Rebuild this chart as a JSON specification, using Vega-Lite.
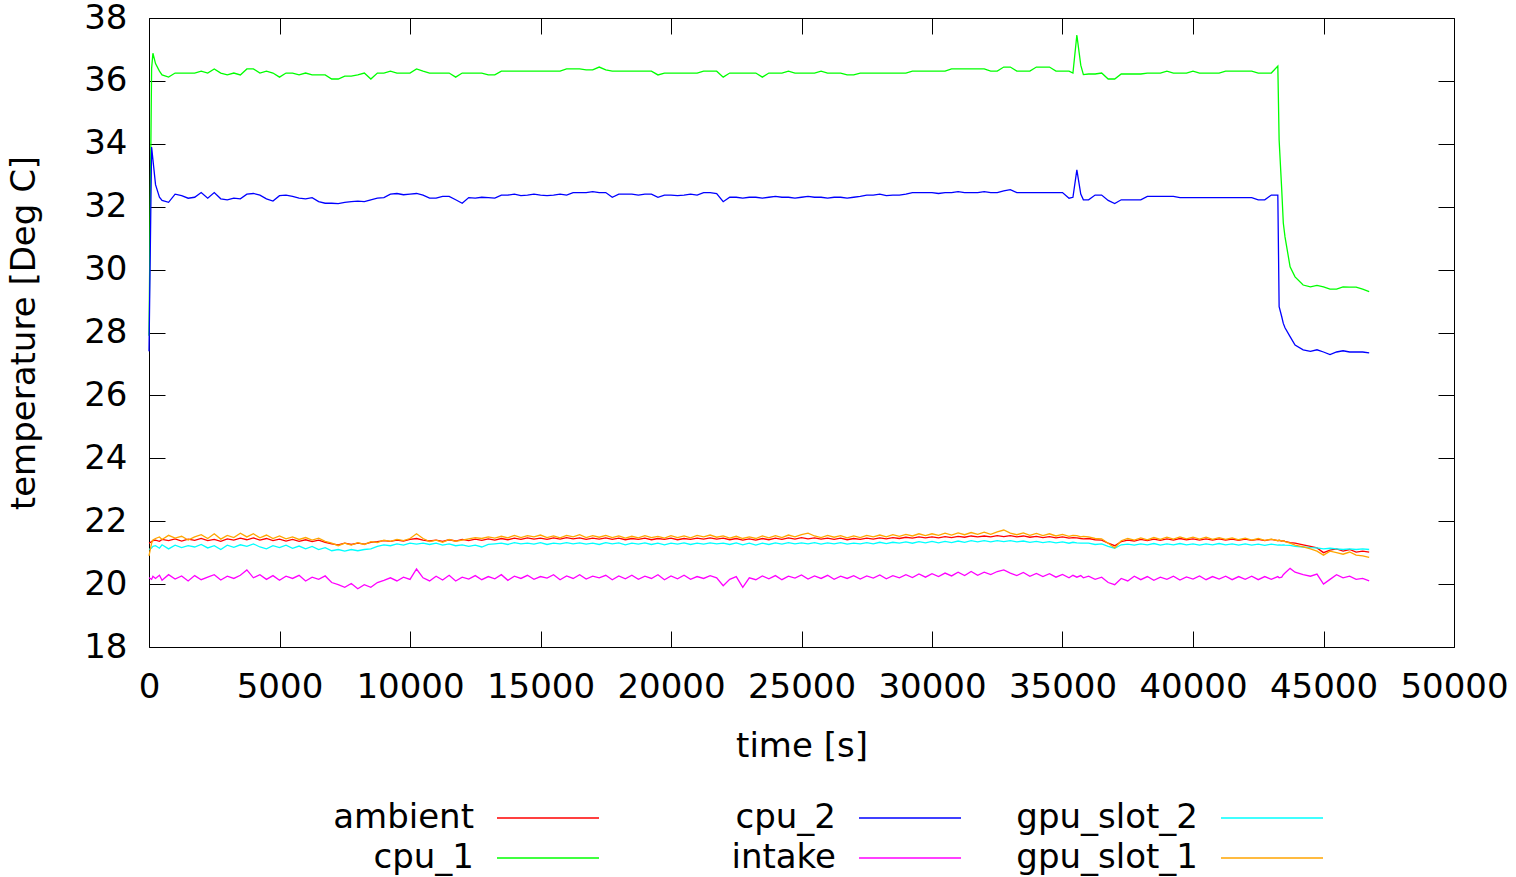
{
  "$schema": "https://vega.github.io/schema/vega-lite/v6.json",
  "width": 1305,
  "height": 629,
  "autosize": {"type": "none"},
  "padding": {"left": 149, "top": 18, "right": 62, "bottom": 230},
  "background": "white",
  "config": {
    "font": "DejaVu Sans",
    "view": {"stroke": "black", "strokeWidth": 1},
    "axis": {"domain": false, "grid": false, "tickColor": "black", "tickWidth": 1, "tickSize": -16, "labelColor": "black", "titleColor": "black", "labelFont": "DejaVu Sans", "titleFont": "DejaVu Sans", "labelFontSize": 34, "titleFontSize": 34, "titleFontWeight": "normal"}
  },
  "data": {"values": [
{"t":0,"a":21.3,"c1":27.9,"c2":27.4,"i":20.2,"g2":21.1,"g1":20.9},
{"t":100,"a":21.35,"c1":36.4,"c2":33.9,"i":20.15,"g2":21.15,"g1":21.3},
{"t":150,"a":21.38,"c1":36.88,"c2":33.5,"i":20.25,"g2":21.2,"g1":21.4},
{"t":250,"a":21.4,"c1":36.55,"c2":32.7,"i":20.18,"g2":21.22,"g1":21.45},
{"t":400,"a":21.36,"c1":36.31,"c2":32.3,"i":20.28,"g2":21.14,"g1":21.5},
{"t":500,"a":21.42,"c1":36.19,"c2":32.2,"i":20.12,"g2":21.25,"g1":21.42},
{"t":750,"a":21.38,"c1":36.12,"c2":32.14,"i":20.3,"g2":21.12,"g1":21.55},
{"t":1000,"a":21.44,"c1":36.25,"c2":32.4,"i":20.16,"g2":21.24,"g1":21.46},
{"t":1250,"a":21.37,"c1":36.25,"c2":32.35,"i":20.26,"g2":21.16,"g1":21.52},
{"t":1500,"a":21.43,"c1":36.25,"c2":32.27,"i":20.1,"g2":21.22,"g1":21.4},
{"t":1750,"a":21.39,"c1":36.25,"c2":32.3,"i":20.27,"g2":21.18,"g1":21.5},
{"t":2000,"a":21.45,"c1":36.31,"c2":32.45,"i":20.14,"g2":21.26,"g1":21.57},
{"t":2250,"a":21.38,"c1":36.25,"c2":32.27,"i":20.22,"g2":21.15,"g1":21.45},
{"t":2500,"a":21.42,"c1":36.38,"c2":32.45,"i":20.3,"g2":21.22,"g1":21.6},
{"t":2750,"a":21.36,"c1":36.25,"c2":32.25,"i":20.13,"g2":21.1,"g1":21.43},
{"t":3000,"a":21.44,"c1":36.19,"c2":32.22,"i":20.25,"g2":21.24,"g1":21.55},
{"t":3250,"a":21.4,"c1":36.25,"c2":32.27,"i":20.18,"g2":21.17,"g1":21.48},
{"t":3500,"a":21.46,"c1":36.19,"c2":32.25,"i":20.28,"g2":21.25,"g1":21.62},
{"t":3750,"a":21.41,"c1":36.38,"c2":32.4,"i":20.45,"g2":21.2,"g1":21.5},
{"t":4000,"a":21.47,"c1":36.38,"c2":32.42,"i":20.2,"g2":21.28,"g1":21.6},
{"t":4250,"a":21.4,"c1":36.25,"c2":32.37,"i":20.3,"g2":21.18,"g1":21.47},
{"t":4500,"a":21.45,"c1":36.31,"c2":32.25,"i":20.15,"g2":21.12,"g1":21.56},
{"t":4750,"a":21.38,"c1":36.25,"c2":32.18,"i":20.27,"g2":21.22,"g1":21.45},
{"t":5000,"a":21.43,"c1":36.12,"c2":32.35,"i":20.12,"g2":21.16,"g1":21.53},
{"t":5250,"a":21.37,"c1":36.25,"c2":32.37,"i":20.25,"g2":21.24,"g1":21.44},
{"t":5500,"a":21.42,"c1":36.25,"c2":32.33,"i":20.18,"g2":21.14,"g1":21.5},
{"t":5750,"a":21.36,"c1":36.19,"c2":32.27,"i":20.28,"g2":21.21,"g1":21.42},
{"t":6000,"a":21.41,"c1":36.25,"c2":32.25,"i":20.1,"g2":21.12,"g1":21.48},
{"t":6250,"a":21.35,"c1":36.19,"c2":32.29,"i":20.22,"g2":21.2,"g1":21.4},
{"t":6500,"a":21.4,"c1":36.19,"c2":32.16,"i":20.15,"g2":21.1,"g1":21.46},
{"t":6750,"a":21.33,"c1":36.19,"c2":32.11,"i":20.26,"g2":21.16,"g1":21.36},
{"t":7000,"a":21.28,"c1":36.06,"c2":32.11,"i":20.05,"g2":21.06,"g1":21.3},
{"t":7250,"a":21.25,"c1":36.06,"c2":32.1,"i":19.98,"g2":21.1,"g1":21.22},
{"t":7500,"a":21.3,"c1":36.15,"c2":32.14,"i":19.9,"g2":21.05,"g1":21.3},
{"t":7750,"a":21.26,"c1":36.15,"c2":32.16,"i":20.02,"g2":21.1,"g1":21.24},
{"t":8000,"a":21.3,"c1":36.19,"c2":32.18,"i":19.85,"g2":21.06,"g1":21.32},
{"t":8250,"a":21.27,"c1":36.25,"c2":32.16,"i":19.98,"g2":21.1,"g1":21.26},
{"t":8500,"a":21.33,"c1":36.06,"c2":32.22,"i":19.9,"g2":21.12,"g1":21.35},
{"t":8750,"a":21.35,"c1":36.25,"c2":32.27,"i":20.05,"g2":21.2,"g1":21.32},
{"t":9000,"a":21.38,"c1":36.25,"c2":32.29,"i":20.12,"g2":21.25,"g1":21.4},
{"t":9250,"a":21.36,"c1":36.31,"c2":32.4,"i":20.2,"g2":21.22,"g1":21.36},
{"t":9500,"a":21.4,"c1":36.25,"c2":32.42,"i":20.1,"g2":21.28,"g1":21.42},
{"t":9750,"a":21.37,"c1":36.25,"c2":32.38,"i":20.22,"g2":21.24,"g1":21.38},
{"t":10000,"a":21.42,"c1":36.25,"c2":32.4,"i":20.15,"g2":21.3,"g1":21.45},
{"t":10250,"a":21.45,"c1":36.38,"c2":32.42,"i":20.48,"g2":21.27,"g1":21.6},
{"t":10500,"a":21.4,"c1":36.31,"c2":32.37,"i":20.2,"g2":21.3,"g1":21.45},
{"t":10750,"a":21.37,"c1":36.25,"c2":32.27,"i":20.1,"g2":21.26,"g1":21.35},
{"t":11000,"a":21.4,"c1":36.25,"c2":32.27,"i":20.25,"g2":21.3,"g1":21.4},
{"t":11250,"a":21.36,"c1":36.25,"c2":32.33,"i":20.13,"g2":21.24,"g1":21.33},
{"t":11500,"a":21.41,"c1":36.25,"c2":32.33,"i":20.28,"g2":21.28,"g1":21.42},
{"t":11750,"a":21.37,"c1":36.12,"c2":32.22,"i":20.1,"g2":21.22,"g1":21.36},
{"t":12000,"a":21.42,"c1":36.25,"c2":32.11,"i":20.22,"g2":21.25,"g1":21.4},
{"t":12250,"a":21.38,"c1":36.25,"c2":32.29,"i":20.16,"g2":21.2,"g1":21.44},
{"t":12500,"a":21.43,"c1":36.25,"c2":32.27,"i":20.27,"g2":21.24,"g1":21.48},
{"t":12750,"a":21.39,"c1":36.25,"c2":32.3,"i":20.14,"g2":21.18,"g1":21.45},
{"t":13000,"a":21.44,"c1":36.19,"c2":32.29,"i":20.24,"g2":21.26,"g1":21.5},
{"t":13250,"a":21.4,"c1":36.19,"c2":32.27,"i":20.17,"g2":21.28,"g1":21.46},
{"t":13500,"a":21.45,"c1":36.31,"c2":32.37,"i":20.3,"g2":21.3,"g1":21.52},
{"t":13750,"a":21.41,"c1":36.31,"c2":32.37,"i":20.12,"g2":21.26,"g1":21.47},
{"t":14000,"a":21.46,"c1":36.31,"c2":32.4,"i":20.25,"g2":21.32,"g1":21.55},
{"t":14250,"a":21.42,"c1":36.31,"c2":32.35,"i":20.18,"g2":21.28,"g1":21.48},
{"t":14500,"a":21.47,"c1":36.31,"c2":32.37,"i":20.28,"g2":21.3,"g1":21.54},
{"t":14750,"a":21.43,"c1":36.31,"c2":32.4,"i":20.15,"g2":21.27,"g1":21.5},
{"t":15000,"a":21.46,"c1":36.31,"c2":32.37,"i":20.24,"g2":21.32,"g1":21.56},
{"t":15250,"a":21.42,"c1":36.31,"c2":32.35,"i":20.19,"g2":21.26,"g1":21.48},
{"t":15500,"a":21.47,"c1":36.31,"c2":32.37,"i":20.3,"g2":21.3,"g1":21.53},
{"t":15750,"a":21.43,"c1":36.31,"c2":32.4,"i":20.14,"g2":21.28,"g1":21.47},
{"t":16000,"a":21.48,"c1":36.38,"c2":32.37,"i":20.26,"g2":21.32,"g1":21.55},
{"t":16250,"a":21.44,"c1":36.38,"c2":32.45,"i":20.18,"g2":21.28,"g1":21.5},
{"t":16500,"a":21.47,"c1":36.38,"c2":32.45,"i":20.3,"g2":21.31,"g1":21.57},
{"t":16750,"a":21.42,"c1":36.35,"c2":32.45,"i":20.16,"g2":21.27,"g1":21.48},
{"t":17000,"a":21.46,"c1":36.35,"c2":32.48,"i":20.25,"g2":21.3,"g1":21.54},
{"t":17250,"a":21.43,"c1":36.44,"c2":32.45,"i":20.2,"g2":21.26,"g1":21.49},
{"t":17500,"a":21.47,"c1":36.35,"c2":32.45,"i":20.28,"g2":21.32,"g1":21.55},
{"t":17750,"a":21.42,"c1":36.31,"c2":32.3,"i":20.14,"g2":21.28,"g1":21.48},
{"t":18000,"a":21.46,"c1":36.31,"c2":32.4,"i":20.26,"g2":21.31,"g1":21.53},
{"t":18250,"a":21.41,"c1":36.31,"c2":32.4,"i":20.17,"g2":21.25,"g1":21.46},
{"t":18500,"a":21.45,"c1":36.31,"c2":32.4,"i":20.28,"g2":21.3,"g1":21.52},
{"t":18750,"a":21.42,"c1":36.31,"c2":32.37,"i":20.15,"g2":21.27,"g1":21.47},
{"t":19000,"a":21.46,"c1":36.31,"c2":32.4,"i":20.25,"g2":21.31,"g1":21.54},
{"t":19250,"a":21.41,"c1":36.31,"c2":32.4,"i":20.18,"g2":21.26,"g1":21.48},
{"t":19500,"a":21.45,"c1":36.19,"c2":32.3,"i":20.3,"g2":21.3,"g1":21.52},
{"t":19750,"a":21.42,"c1":36.25,"c2":32.37,"i":20.14,"g2":21.25,"g1":21.46},
{"t":20000,"a":21.46,"c1":36.25,"c2":32.37,"i":20.26,"g2":21.3,"g1":21.54},
{"t":20250,"a":21.41,"c1":36.25,"c2":32.35,"i":20.17,"g2":21.27,"g1":21.48},
{"t":20500,"a":21.45,"c1":36.25,"c2":32.37,"i":20.28,"g2":21.31,"g1":21.53},
{"t":20750,"a":21.42,"c1":36.25,"c2":32.4,"i":20.15,"g2":21.26,"g1":21.47},
{"t":21000,"a":21.46,"c1":36.25,"c2":32.37,"i":20.24,"g2":21.3,"g1":21.55},
{"t":21250,"a":21.43,"c1":36.31,"c2":32.45,"i":20.18,"g2":21.27,"g1":21.5},
{"t":21500,"a":21.47,"c1":36.31,"c2":32.45,"i":20.27,"g2":21.31,"g1":21.56},
{"t":21750,"a":21.43,"c1":36.31,"c2":32.42,"i":20.2,"g2":21.28,"g1":21.49},
{"t":22000,"a":21.46,"c1":36.12,"c2":32.16,"i":19.95,"g2":21.3,"g1":21.53},
{"t":22250,"a":21.41,"c1":36.25,"c2":32.3,"i":20.15,"g2":21.26,"g1":21.46},
{"t":22500,"a":21.45,"c1":36.25,"c2":32.3,"i":20.24,"g2":21.31,"g1":21.52},
{"t":22750,"a":21.4,"c1":36.25,"c2":32.27,"i":19.9,"g2":21.25,"g1":21.45},
{"t":23000,"a":21.44,"c1":36.25,"c2":32.3,"i":20.2,"g2":21.3,"g1":21.5},
{"t":23250,"a":21.4,"c1":36.25,"c2":32.3,"i":20.14,"g2":21.24,"g1":21.45},
{"t":23500,"a":21.45,"c1":36.12,"c2":32.27,"i":20.26,"g2":21.3,"g1":21.53},
{"t":23750,"a":21.41,"c1":36.25,"c2":32.3,"i":20.17,"g2":21.26,"g1":21.47},
{"t":24000,"a":21.46,"c1":36.25,"c2":32.33,"i":20.27,"g2":21.31,"g1":21.54},
{"t":24250,"a":21.42,"c1":36.25,"c2":32.3,"i":20.14,"g2":21.27,"g1":21.48},
{"t":24500,"a":21.47,"c1":36.31,"c2":32.3,"i":20.25,"g2":21.32,"g1":21.56},
{"t":24750,"a":21.43,"c1":36.25,"c2":32.27,"i":20.19,"g2":21.28,"g1":21.5},
{"t":25000,"a":21.48,"c1":36.25,"c2":32.3,"i":20.29,"g2":21.31,"g1":21.57},
{"t":25250,"a":21.44,"c1":36.25,"c2":32.33,"i":20.16,"g2":21.28,"g1":21.62},
{"t":25500,"a":21.47,"c1":36.25,"c2":32.3,"i":20.26,"g2":21.32,"g1":21.53},
{"t":25750,"a":21.43,"c1":36.31,"c2":32.3,"i":20.18,"g2":21.27,"g1":21.48},
{"t":26000,"a":21.46,"c1":36.25,"c2":32.27,"i":20.28,"g2":21.31,"g1":21.55},
{"t":26250,"a":21.42,"c1":36.25,"c2":32.3,"i":20.15,"g2":21.28,"g1":21.49},
{"t":26500,"a":21.46,"c1":36.25,"c2":32.3,"i":20.25,"g2":21.32,"g1":21.54},
{"t":26750,"a":21.41,"c1":36.19,"c2":32.27,"i":20.18,"g2":21.27,"g1":21.47},
{"t":27000,"a":21.45,"c1":36.19,"c2":32.3,"i":20.27,"g2":21.3,"g1":21.53},
{"t":27250,"a":21.42,"c1":36.25,"c2":32.33,"i":20.16,"g2":21.28,"g1":21.48},
{"t":27500,"a":21.46,"c1":36.25,"c2":32.37,"i":20.26,"g2":21.32,"g1":21.55},
{"t":27750,"a":21.43,"c1":36.25,"c2":32.37,"i":20.19,"g2":21.28,"g1":21.5},
{"t":28000,"a":21.47,"c1":36.25,"c2":32.4,"i":20.29,"g2":21.33,"g1":21.56},
{"t":28250,"a":21.44,"c1":36.25,"c2":32.35,"i":20.17,"g2":21.29,"g1":21.5},
{"t":28500,"a":21.48,"c1":36.25,"c2":32.37,"i":20.27,"g2":21.33,"g1":21.57},
{"t":28750,"a":21.45,"c1":36.25,"c2":32.37,"i":20.2,"g2":21.3,"g1":21.52},
{"t":29000,"a":21.49,"c1":36.25,"c2":32.4,"i":20.3,"g2":21.34,"g1":21.58},
{"t":29250,"a":21.46,"c1":36.31,"c2":32.45,"i":20.21,"g2":21.3,"g1":21.53},
{"t":29500,"a":21.5,"c1":36.31,"c2":32.45,"i":20.32,"g2":21.35,"g1":21.6},
{"t":29750,"a":21.47,"c1":36.31,"c2":32.45,"i":20.22,"g2":21.31,"g1":21.54},
{"t":30000,"a":21.5,"c1":36.31,"c2":32.45,"i":20.33,"g2":21.36,"g1":21.6},
{"t":30250,"a":21.47,"c1":36.31,"c2":32.42,"i":20.24,"g2":21.31,"g1":21.55},
{"t":30500,"a":21.51,"c1":36.31,"c2":32.45,"i":20.35,"g2":21.36,"g1":21.62},
{"t":30750,"a":21.48,"c1":36.38,"c2":32.45,"i":20.26,"g2":21.32,"g1":21.56},
{"t":31000,"a":21.52,"c1":36.38,"c2":32.48,"i":20.38,"g2":21.37,"g1":21.63},
{"t":31250,"a":21.49,"c1":36.38,"c2":32.45,"i":20.27,"g2":21.33,"g1":21.57},
{"t":31500,"a":21.53,"c1":36.38,"c2":32.45,"i":20.4,"g2":21.38,"g1":21.64},
{"t":31750,"a":21.5,"c1":36.38,"c2":32.45,"i":20.28,"g2":21.34,"g1":21.58},
{"t":32000,"a":21.53,"c1":36.38,"c2":32.48,"i":20.38,"g2":21.38,"g1":21.65},
{"t":32250,"a":21.5,"c1":36.31,"c2":32.45,"i":20.3,"g2":21.34,"g1":21.58},
{"t":32500,"a":21.54,"c1":36.31,"c2":32.45,"i":20.4,"g2":21.38,"g1":21.66},
{"t":32750,"a":21.51,"c1":36.44,"c2":32.5,"i":20.45,"g2":21.35,"g1":21.72},
{"t":33000,"a":21.54,"c1":36.44,"c2":32.54,"i":20.35,"g2":21.38,"g1":21.62},
{"t":33250,"a":21.5,"c1":36.31,"c2":32.45,"i":20.27,"g2":21.34,"g1":21.57},
{"t":33500,"a":21.53,"c1":36.31,"c2":32.45,"i":20.37,"g2":21.37,"g1":21.63},
{"t":33750,"a":21.49,"c1":36.31,"c2":32.45,"i":20.25,"g2":21.33,"g1":21.55},
{"t":34000,"a":21.52,"c1":36.44,"c2":32.45,"i":20.34,"g2":21.36,"g1":21.61},
{"t":34250,"a":21.48,"c1":36.44,"c2":32.45,"i":20.24,"g2":21.32,"g1":21.54},
{"t":34500,"a":21.51,"c1":36.44,"c2":32.45,"i":20.33,"g2":21.35,"g1":21.6},
{"t":34750,"a":21.47,"c1":36.31,"c2":32.45,"i":20.22,"g2":21.31,"g1":21.53},
{"t":35000,"a":21.5,"c1":36.31,"c2":32.45,"i":20.31,"g2":21.34,"g1":21.58},
{"t":35250,"a":21.46,"c1":36.31,"c2":32.27,"i":20.2,"g2":21.3,"g1":21.52},
{"t":35400,"a":21.48,"c1":36.25,"c2":32.3,"i":20.28,"g2":21.33,"g1":21.55},
{"t":35550,"a":21.47,"c1":37.46,"c2":33.17,"i":20.22,"g2":21.31,"g1":21.54},
{"t":35700,"a":21.45,"c1":36.5,"c2":32.4,"i":20.27,"g2":21.3,"g1":21.5},
{"t":35800,"a":21.44,"c1":36.2,"c2":32.22,"i":20.2,"g2":21.3,"g1":21.52},
{"t":36000,"a":21.45,"c1":36.22,"c2":32.22,"i":20.25,"g2":21.3,"g1":21.5},
{"t":36250,"a":21.41,"c1":36.22,"c2":32.37,"i":20.15,"g2":21.26,"g1":21.45},
{"t":36500,"a":21.4,"c1":36.25,"c2":32.37,"i":20.22,"g2":21.28,"g1":21.44},
{"t":36750,"a":21.3,"c1":36.06,"c2":32.2,"i":20.05,"g2":21.2,"g1":21.3},
{"t":37000,"a":21.22,"c1":36.06,"c2":32.1,"i":19.98,"g2":21.14,"g1":21.15},
{"t":37250,"a":21.35,"c1":36.22,"c2":32.22,"i":20.18,"g2":21.25,"g1":21.38},
{"t":37500,"a":21.4,"c1":36.22,"c2":32.22,"i":20.1,"g2":21.27,"g1":21.45},
{"t":37750,"a":21.37,"c1":36.22,"c2":32.22,"i":20.25,"g2":21.24,"g1":21.4},
{"t":38000,"a":21.42,"c1":36.22,"c2":32.22,"i":20.14,"g2":21.28,"g1":21.47},
{"t":38250,"a":21.38,"c1":36.25,"c2":32.33,"i":20.24,"g2":21.25,"g1":21.41},
{"t":38500,"a":21.43,"c1":36.25,"c2":32.33,"i":20.12,"g2":21.29,"g1":21.48},
{"t":38750,"a":21.39,"c1":36.25,"c2":32.33,"i":20.22,"g2":21.24,"g1":21.42},
{"t":39000,"a":21.44,"c1":36.31,"c2":32.33,"i":20.15,"g2":21.28,"g1":21.49},
{"t":39250,"a":21.4,"c1":36.25,"c2":32.33,"i":20.25,"g2":21.25,"g1":21.43},
{"t":39500,"a":21.45,"c1":36.25,"c2":32.29,"i":20.13,"g2":21.29,"g1":21.5},
{"t":39750,"a":21.41,"c1":36.25,"c2":32.29,"i":20.23,"g2":21.25,"g1":21.44},
{"t":40000,"a":21.44,"c1":36.31,"c2":32.29,"i":20.16,"g2":21.28,"g1":21.49},
{"t":40250,"a":21.4,"c1":36.25,"c2":32.29,"i":20.26,"g2":21.24,"g1":21.43},
{"t":40500,"a":21.44,"c1":36.25,"c2":32.29,"i":20.14,"g2":21.28,"g1":21.49},
{"t":40750,"a":21.4,"c1":36.25,"c2":32.29,"i":20.24,"g2":21.25,"g1":21.42},
{"t":41000,"a":21.44,"c1":36.25,"c2":32.29,"i":20.16,"g2":21.29,"g1":21.48},
{"t":41250,"a":21.4,"c1":36.31,"c2":32.29,"i":20.25,"g2":21.25,"g1":21.42},
{"t":41500,"a":21.43,"c1":36.31,"c2":32.29,"i":20.14,"g2":21.28,"g1":21.47},
{"t":41750,"a":21.39,"c1":36.31,"c2":32.29,"i":20.24,"g2":21.24,"g1":21.41},
{"t":42000,"a":21.43,"c1":36.31,"c2":32.29,"i":20.15,"g2":21.28,"g1":21.46},
{"t":42250,"a":21.39,"c1":36.31,"c2":32.29,"i":20.25,"g2":21.24,"g1":21.4},
{"t":42500,"a":21.42,"c1":36.25,"c2":32.22,"i":20.14,"g2":21.27,"g1":21.45},
{"t":42750,"a":21.38,"c1":36.25,"c2":32.22,"i":20.24,"g2":21.23,"g1":21.39},
{"t":43000,"a":21.42,"c1":36.25,"c2":32.37,"i":20.15,"g2":21.27,"g1":21.43},
{"t":43250,"a":21.38,"c1":36.47,"c2":32.37,"i":20.24,"g2":21.24,"g1":21.38},
{"t":43300,"a":21.39,"c1":34.12,"c2":28.82,"i":20.2,"g2":21.25,"g1":21.4},
{"t":43400,"a":21.37,"c1":32.53,"c2":28.5,"i":20.22,"g2":21.24,"g1":21.37},
{"t":43460,"a":21.38,"c1":31.48,"c2":28.29,"i":20.3,"g2":21.25,"g1":21.38},
{"t":43525,"a":21.36,"c1":31.04,"c2":28.15,"i":20.35,"g2":21.24,"g1":21.35},
{"t":43720,"a":21.32,"c1":30.09,"c2":27.87,"i":20.5,"g2":21.23,"g1":21.3},
{"t":43910,"a":21.3,"c1":29.77,"c2":27.6,"i":20.38,"g2":21.2,"g1":21.24},
{"t":44220,"a":21.25,"c1":29.51,"c2":27.45,"i":20.3,"g2":21.18,"g1":21.18},
{"t":44500,"a":21.2,"c1":29.45,"c2":27.4,"i":20.25,"g2":21.16,"g1":21.12},
{"t":44750,"a":21.15,"c1":29.5,"c2":27.45,"i":20.32,"g2":21.15,"g1":21.05},
{"t":45000,"a":21.0,"c1":29.45,"c2":27.38,"i":20.0,"g2":21.12,"g1":20.92},
{"t":45250,"a":21.08,"c1":29.38,"c2":27.3,"i":20.15,"g2":21.14,"g1":21.05},
{"t":45500,"a":21.12,"c1":29.38,"c2":27.38,"i":20.3,"g2":21.12,"g1":21.0},
{"t":45750,"a":21.05,"c1":29.45,"c2":27.42,"i":20.2,"g2":21.1,"g1":20.95},
{"t":46000,"a":21.1,"c1":29.44,"c2":27.38,"i":20.25,"g2":21.12,"g1":21.02},
{"t":46250,"a":21.02,"c1":29.44,"c2":27.38,"i":20.15,"g2":21.1,"g1":20.92},
{"t":46500,"a":21.05,"c1":29.38,"c2":27.38,"i":20.18,"g2":21.12,"g1":20.9},
{"t":46750,"a":21.02,"c1":29.3,"c2":27.35,"i":20.1,"g2":21.1,"g1":20.85}
  ]},
  "transform": [{"fold": ["a", "c1", "c2", "i", "g2", "g1"], "as": ["series", "value"]}],
  "layer": [
    {
      "mark": {"type": "line", "strokeWidth": 1.3, "interpolate": "linear"},
      "encoding": {
        "x": {"field": "t", "type": "quantitative", "scale": {"domain": [0, 50000], "nice": false, "zero": false},
              "axis": {"orient": "bottom", "values": [0,5000,10000,15000,20000,25000,30000,35000,40000,45000,50000], "format": "d", "labelPadding": 39, "title": "time [s]", "titlePadding": 25, "labelFlush": false, "labelOverlap": false}},
        "y": {"field": "value", "type": "quantitative", "scale": {"domain": [18, 38], "nice": false, "zero": false},
              "axis": {"orient": "left", "values": [18,20,22,24,26,28,30,32,34,36,38], "labelPadding": 38, "title": "temperature [Deg C]", "titlePadding": 42, "labelFlush": false, "labelOverlap": false}},
        "color": {"field": "series", "type": "nominal",
                  "scale": {"domain": ["a", "c2", "g2", "c1", "i", "g1"], "range": ["#ff0000", "#0000ff", "#00ffff", "#00ff00", "#ff00ff", "#ffa500"]},
                  "legend": {"orient": "none", "legendX": 347, "legendY": 782, "direction": "horizontal", "columns": 3, "title": null,
                             "symbolType": "M-1,0H5", "symbolSize": 1156, "symbolStrokeWidth": 1.5, "symbolFillColor": "transparent",
                             "labelAlign": "right", "labelOffset": -58, "labelFont": "DejaVu Sans", "labelFontSize": 34, "labelColor": "black", "labelLimit": 0,
                             "gridAlign": "all", "columnPadding": 52, "rowPadding": 5, "padding": 0,
                             "labelExpr": "datum.label == 'a' ? 'ambient' : datum.label == 'c1' ? 'cpu_1' : datum.label == 'c2' ? 'cpu_2' : datum.label == 'i' ? 'intake' : datum.label == 'g2' ? 'gpu_slot_2' : 'gpu_slot_1'"}}
      }
    },
    {
      "mark": {"type": "point", "opacity": 0},
      "encoding": {
        "x": {"field": "t", "type": "quantitative", "axis": {"orient": "top", "values": [0,5000,10000,15000,20000,25000,30000,35000,40000,45000,50000], "labels": false, "title": null}},
        "y": {"field": "value", "type": "quantitative", "axis": {"orient": "right", "values": [18,20,22,24,26,28,30,32,34,36,38], "labels": false, "title": null}}
      }
    }
  ],
  "resolve": {"axis": {"x": "independent", "y": "independent"}}
}
